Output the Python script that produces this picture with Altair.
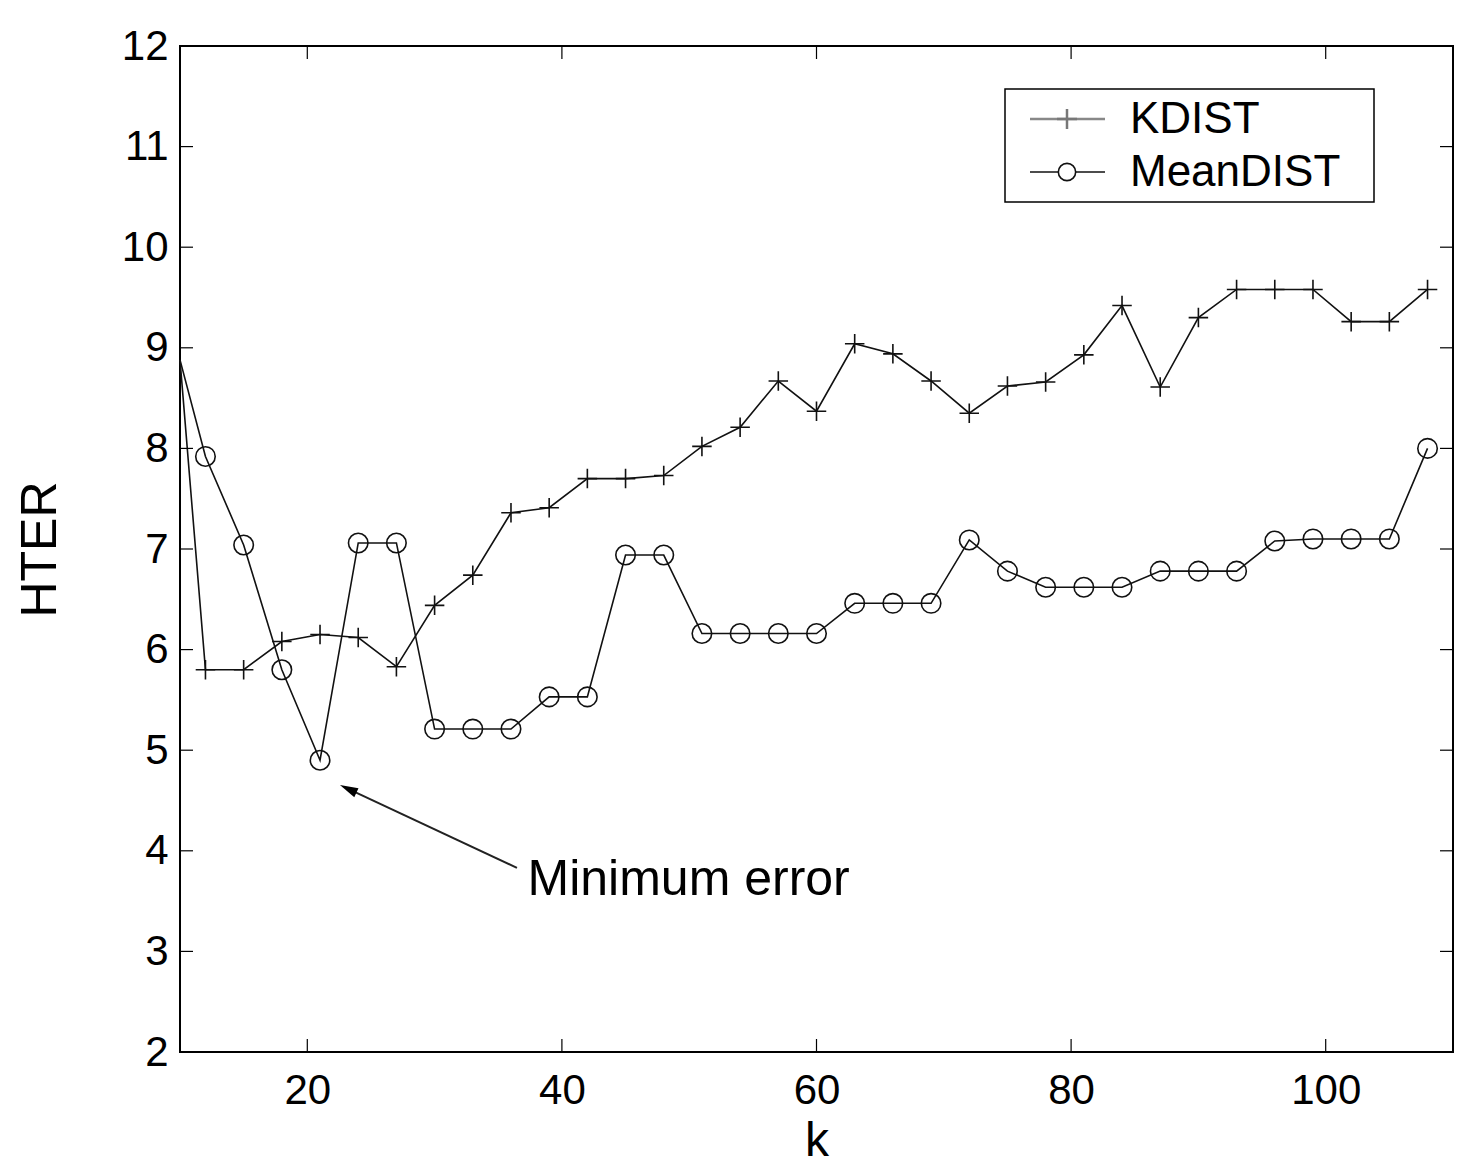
import altair as alt
import pandas as pd

# ---- data ----
k_values = [10, 12, 15, 18, 21, 24, 27, 30, 33, 36, 39, 42, 45, 48, 51, 54, 57, 60,
            63, 66, 69, 72, 75, 78, 81, 84, 87, 90, 93, 96, 99, 102, 105, 108]
kdist = [8.88, 5.80, 5.80, 6.08, 6.15, 6.12, 5.83, 6.44, 6.74, 7.36, 7.41, 7.70, 7.70,
         7.73, 8.02, 8.21, 8.67, 8.37, 9.04, 8.94, 8.67, 8.35, 8.62, 8.66, 8.93, 9.42,
         8.61, 9.30, 9.58, 9.58, 9.58, 9.26, 9.26, 9.58]
meandist = [8.88, 7.92, 7.04, 5.80, 4.90, 7.06, 7.06, 5.21, 5.21, 5.21, 5.53, 5.53, 6.94,
            6.94, 6.16, 6.16, 6.16, 6.16, 6.46, 6.46, 6.46, 7.09, 6.78, 6.62, 6.62, 6.62,
            6.78, 6.78, 6.78, 7.08, 7.10, 7.10, 7.10, 8.00]
series_names = ["KDIST", "MeanDIST"]
x_ticks = [20, 40, 60, 80, 100]
y_ticks = [2, 3, 4, 5, 6, 7, 8, 9, 10, 11, 12]

annot_text = "Minimum error"
annot_text_pos = [37.3, 3.56]        # k, HTER (left / baseline of text)
arrow_from = [36.47, 3.83]
arrow_head = [23.21, 4.616]

FONT = "Liberation Sans"
W, H = 1273, 1006
PLUS = "M-1,0H1M0,-1V1"

df = pd.DataFrame({
    "k": k_values * 2,
    "HTER": kdist + meandist,
    "series": [series_names[0]] * len(k_values) + [series_names[1]] * len(k_values),
})

xs = alt.Scale(domain=[10, 110], nice=False, zero=False)
ys = alt.Scale(domain=[2, 12], nice=False, zero=False)

x_axis = alt.Axis(values=x_ticks, title="k", domain=False, ticks=False, grid=False,
                  labelFont=FONT, labelFontSize=42, labelColor="black", labelPadding=18,
                  titleFont=FONT, titleFontSize=48, titleFontWeight="normal",
                  titleColor="black", titlePadding=6)
y_axis = alt.Axis(values=y_ticks, title="HTER", domain=False, ticks=False, grid=False,
                  labelFont=FONT, labelFontSize=42, labelColor="black", labelPadding=12,
                  titleFont=FONT, titleFontSize=50, titleFontWeight="normal",
                  titleColor="black", titlePadding=56)


def X(f):
    return alt.X(f, scale=xs, axis=x_axis)


def Y(f):
    return alt.Y(f, scale=ys, axis=y_axis)


lines = alt.Chart(df).mark_line(color="#111", strokeWidth=1.6).encode(
    x=X("k:Q"), y=Y("HTER:Q"), detail="series:N",
)

points = alt.Chart(df).transform_filter("datum.k > 10").mark_point(
    filled=False, color="#111", strokeWidth=1.6, size=380, opacity=1
).encode(
    x=X("k:Q"), y=Y("HTER:Q"),
    shape=alt.Shape("series:N", scale=alt.Scale(domain=series_names, range=[PLUS, "circle"]),
                    legend=None),
)

xt = pd.DataFrame({"k": x_ticks})
yt = pd.DataFrame({"HTER": y_ticks})
tick_style = dict(color="black", strokeWidth=1.2)
xb = alt.Chart(xt).mark_rule(**tick_style).encode(
    x=X("k:Q"), y=alt.value(H), y2=alt.value(H - 13))
xtop = alt.Chart(xt).mark_rule(**tick_style).encode(
    x=X("k:Q"), y=alt.value(0), y2=alt.value(13))
yl = alt.Chart(yt).mark_rule(**tick_style).encode(
    y=Y("HTER:Q"), x=alt.value(0), x2=alt.value(13))
yr = alt.Chart(yt).mark_rule(**tick_style).encode(
    y=Y("HTER:Q"), x=alt.value(W - 13), x2=alt.value(W))

# annotation
arrow_df = pd.DataFrame({"k": [arrow_from[0]], "HTER": [arrow_from[1]],
                         "k2": [arrow_head[0]], "HTER2": [arrow_head[1]]})
arrow_line = alt.Chart(arrow_df).mark_rule(color="#222", strokeWidth=2).encode(
    x=X("k:Q"), y=Y("HTER:Q"), x2="k2:Q", y2="HTER2:Q")
arrow_tip = alt.Chart(arrow_df).mark_point(
    shape="M0,-1L0.55,1L-0.55,1Z", filled=True, color="black", size=330, angle=295, opacity=1
).encode(x=X("k2:Q"), y=Y("HTER2:Q"))
text_df = pd.DataFrame({"k": [annot_text_pos[0]], "HTER": [annot_text_pos[1]], "t": [annot_text]})
annot = alt.Chart(text_df).mark_text(
    font=FONT, fontSize=50, align="left", baseline="alphabetic", color="black"
).encode(x=X("k:Q"), y=Y("HTER:Q"), text="t:N")

# legend (manual, matlab style)
one = alt.Data(values=[{}])
leg_box = alt.Chart(one).mark_rect(fill="white", stroke="black", strokeWidth=1.5).encode(
    x=alt.value(825), x2=alt.value(1194), y=alt.value(43), y2=alt.value(156))
leg_l1 = alt.Chart(one).mark_rule(color="#888", strokeWidth=2.5).encode(
    x=alt.value(850), x2=alt.value(925), y=alt.value(73))
leg_p1 = alt.Chart(one).mark_point(shape=PLUS, filled=False, color="#777", strokeWidth=2.5,
                                   size=400, opacity=1).encode(x=alt.value(887), y=alt.value(73))
leg_l2 = alt.Chart(one).mark_rule(color="#111", strokeWidth=1.6).encode(
    x=alt.value(850), x2=alt.value(925), y=alt.value(126))
leg_p2 = alt.Chart(one).mark_point(shape="circle", filled=True, fill="white", stroke="#111",
                                   strokeWidth=1.6, size=300, opacity=1).encode(
    x=alt.value(887), y=alt.value(126))
leg_t1 = alt.Chart(one).mark_text(font=FONT, fontSize=44, align="left", baseline="middle",
                                  color="black", text=series_names[0]).encode(
    x=alt.value(950), y=alt.value(74))
leg_t2 = alt.Chart(one).mark_text(font=FONT, fontSize=44, align="left", baseline="middle",
                                  color="black", text=series_names[1]).encode(
    x=alt.value(950), y=alt.value(127))

chart = alt.layer(
    lines, points, xb, xtop, yl, yr, arrow_line, arrow_tip, annot,
    leg_box, leg_l1, leg_p1, leg_l2, leg_p2, leg_t1, leg_t2,
).properties(
    width=W, height=H,
    autosize=alt.AutoSizeParams(type="none"),
    padding={"left": 180, "top": 46, "right": 11, "bottom": 114},
    background="white",
).configure_view(stroke="black", strokeWidth=2)

chart.save("out.html", embed_options={"renderer": "svg", "actions": False})
